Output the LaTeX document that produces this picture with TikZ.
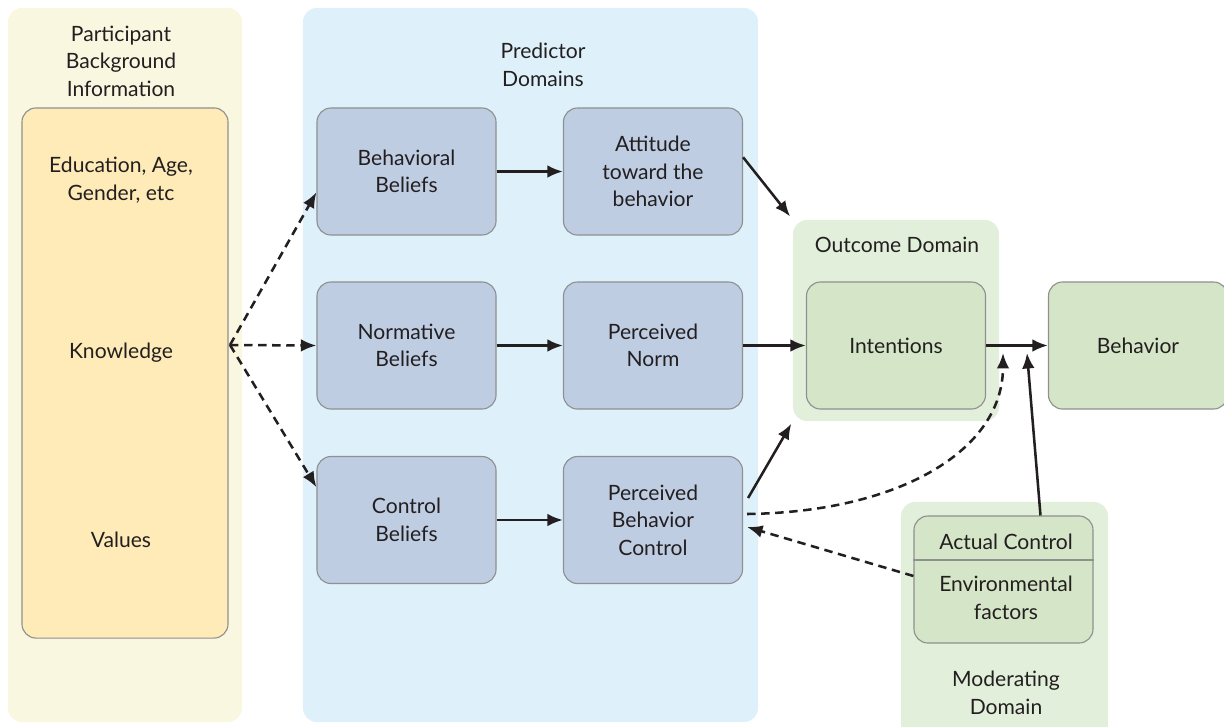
\documentclass[tikz,border=0pt]{standalone}
\usepackage{fontspec}
\setmainfont{Lato}
\usetikzlibrary{arrows.meta, calc, positioning}
\definecolor{bgYellow}{HTML}{FAF7E1}
\definecolor{boxOrange}{HTML}{FEEBB7}
\definecolor{bgBlue}{HTML}{DEF1FB}
\definecolor{boxBlue}{HTML}{BFCDE3}
\definecolor{bgGreen}{HTML}{E2EFDA}
\definecolor{boxGreen}{HTML}{D5E5C7}
\definecolor{lineGray}{HTML}{8F9090}
\definecolor{txtDark}{HTML}{231F20}
\newcommand{\lblsize}{\fontsize{15}{19.5}\selectfont}
\tikzset{
  panel/.style={rectangle, rounded corners=10pt, inner sep=0pt},
  box/.style={rectangle, rounded corners=10pt, draw=lineGray, line width=0.8pt,
    minimum width=4.475cm, minimum height=3.175cm, align=center, text=txtDark, font=\lblsize},
  lbl/.style={align=center, text=txtDark, font=\lblsize, inner sep=0pt},
  link/.style={-{Latex[length=11pt,width=9pt]}, line width=1.8pt, draw=txtDark},
  dlink/.style={link, dash pattern=on 6pt off 4pt}
}
\begin{document}
\begin{tikzpicture}[x=0.025cm, y=-0.025cm]
  \useasboundingbox (0,0) rectangle (1224,726);
  % background domains
  \node[panel, fill=bgYellow, minimum width=5.85cm, minimum height=17.85cm] (bgpart) at (125,365) {};
  \node[panel, fill=bgBlue, minimum width=11.375cm, minimum height=17.85cm] (bgpred) at (530.5,365) {};
  \node[panel, fill=bgGreen, minimum width=5.15cm, minimum height=5.025cm] (outcome) at (896,320.5) {};
  \node[panel, fill=bgGreen, minimum width=5.175cm, minimum height=5.9cm] (moder) at (1004.5,620) {};
  % domain titles
  \node[lbl] (tpart) at (121,61) {Participant\\Background\\Information};
  \node[lbl] (tpred) at (543,65) {Predictor\\Domains};
  \node[lbl] (tout) at (897,245) {Outcome Domain};
  \node[lbl] (tmod) at (1006,693) {Moderating\\Domain};
  % background info
  \node[box, fill=boxOrange, minimum width=5.15cm, minimum height=13.25cm] (ctx) at (125,373) {};
  \node[lbl] (edu) at (121,180) {Education, Age,\\Gender, etc};
  \node[lbl] (know) at (121,353) {Knowledge};
  \node[lbl] (vals) at (121,540) {Values};
  \coordinate (fan) at (230,345);
  % predictors
  \node[box, fill=boxBlue] (bb) at (406.5,171.5) {Behavioral\\Beliefs};
  \node[box, fill=boxBlue] (nb) at (406.5,345.5) {Normative\\Beliefs};
  \node[box, fill=boxBlue] (cb) at (406.5,520) {Control\\Beliefs};
  \node[box, fill=boxBlue] (att) at (653,171.5) {Attitude\\toward the\\behavior};
  \node[box, fill=boxBlue] (pn) at (653,345.5) {Perceived\\Norm};
  \node[box, fill=boxBlue] (pbc) at (653,520) {Perceived\\Behavior\\Control};
  % outcome
  \node[box, fill=boxGreen] (intent) at (896,345.5) {Intentions};
  \node[box, fill=boxGreen] (behav) at (1138,345.5) {Behavior};
  % moderating
  \node[box, fill=boxGreen] (actbox) at (1003.5,579.5) {};
  \draw[draw=lineGray, line width=0.8pt] ($(actbox.west)+(0,-19.5)$) -- ($(actbox.east)+(0,-19.5)$);
  \node[lbl] (actual) at (1006,542) {Actual Control};
  \node[lbl] (envf) at (1006,598) {Environmental\\factors};
  \coordinate (tipD) at (1003,353);
  \coordinate (tipS) at (1027,353);
  % connectors
  \draw[dlink] (fan) -- (bb.193);
  \draw[dlink] (fan) -- (nb.west);
  \draw[dlink] (fan) -- (cb.160);
  \draw[link] (bb) -- (att);
  \draw[link] (nb) -- (pn);
  \draw[link] (cb) -- (pbc);
  \draw[link, shorten >=3pt] (att.9) -- (outcome.north west);
  \draw[link] (pn) -- (intent);
  \draw[link, shorten >=2pt] ($(pbc.east)+(5,-22)$) -- (outcome.south west);
  \draw[link] (intent) -- (behav);
  \draw[link] ($(actbox.north)+(37,0)$) -- (tipS);
  \draw[dlink] ($(pbc.east)+(4,-6)$) .. controls (900,512) and (1003,450) .. (tipD);
  \draw[dlink] ($(actbox.west)+(0,-3.5)$) -- ($(pbc.east)+(4,7)$);
\end{tikzpicture}
\end{document}
